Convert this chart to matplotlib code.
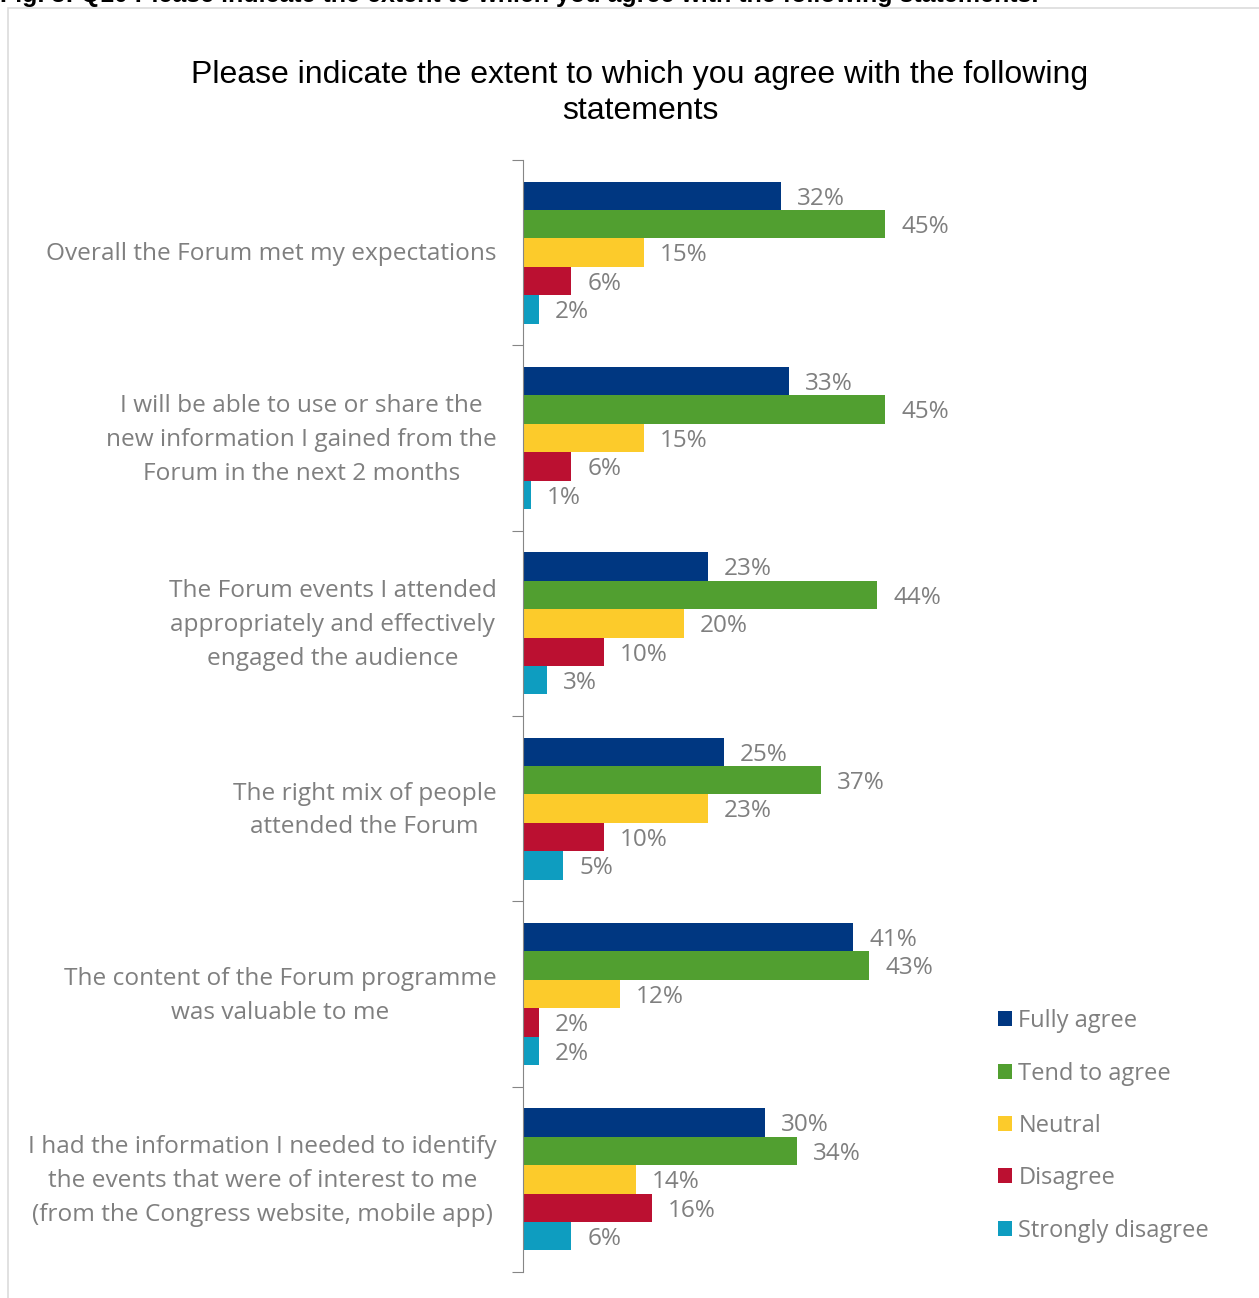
import numpy as np
import matplotlib.pyplot as plt
from matplotlib.patches import Rectangle

# survey statements, top to bottom
statements = [
    "Overall the Forum met my expectations",
    "I will be able to use or share the\nnew information I gained from the\nForum in the next 2 months",
    "The Forum events I attended\nappropriately and effectively\nengaged the audience",
    "The right mix of people\nattended the Forum",
    "The content of the Forum programme\nwas valuable to me",
    "I had the information I needed to identify\nthe events that were of interest to me\n(from the Congress website, mobile app)",
]
answers = ["Fully agree", "Tend to agree", "Neutral", "Disagree", "Strongly disagree"]
colors = ["#003781", "#519f30", "#fccb2b", "#bb1031", "#0e9dc0"]

fully_agree = [32, 33, 23, 25, 41, 30]
tend_to_agree = [45, 45, 44, 37, 43, 34]
neutral = [15, 15, 20, 23, 12, 14]
disagree = [6, 6, 10, 10, 2, 16]
strongly_disagree = [2, 1, 3, 5, 2, 6]
series = [fully_agree, tend_to_agree, neutral, disagree, strongly_disagree]

W, H = 1259, 1298
fig = plt.figure(figsize=(W / 100, H / 100), dpi=100)
grey = "#7f7f7f"
lab_font = "Open Sans"

# light frame round the chart
fig.patches.append(Rectangle((8 / W, -0.01), 1.2, 1 - 8 / H + 0.01, transform=fig.transFigure,
                             fill=False, edgecolor="#dcdcdc", linewidth=1.2))

# caption of the figure, running off the top edge
fig.text(0.0, 1 - 2 / H, "Fig. 3: Q10 Please indicate the extent to which you agree with the following statements.",
         fontsize=18, fontweight="bold", family="Liberation Sans", va="baseline", ha="left")

fig.text(640 / W, 1 - 60 / H, "Please indicate the extent to which you agree with the following\nstatements",
         fontsize=23, family="Liberation Sans", ha="center", va="top", linespacing=1.24)

ax = fig.add_axes([523 / W, 1 - 1272 / H, 500 / W, (1272 - 160) / H])
n = len(statements)
ypos = np.arange(n)
bh = 0.1535
for k, (vals, c, name) in enumerate(zip(series, colors, answers)):
    y = ypos + (k - 2) * bh
    ax.barh(y, vals, height=bh, color=c, label=name)
    for yy, v in zip(y, vals):
        ax.annotate(f"{v}%", xy=(v, yy), xytext=(11.5, -2), textcoords="offset points",
                    va="center", ha="left", fontsize=17.5, color=grey, family=lab_font)

# statement labels, right-aligned block, lines centred
for yy, s in zip(ypos, statements):
    ax.annotate(s, xy=(0, yy), xycoords=("axes fraction", "data"), xytext=(-19, -1.3),
                textcoords="offset points", ha="right", va="center", multialignment="center",
                fontsize=17.6, color=grey, family=lab_font, linespacing=1.55)

ax.set_xlim(0, 500 / 8.05)
ax.set_ylim(n - 0.5, -0.5)
ax.set_yticks(np.arange(n + 1) - 0.5)
ax.set_yticklabels([])
ax.tick_params(axis="y", length=8, color="#868686", direction="out")
ax.set_xticks([])
for s in ["top", "right", "bottom"]:
    ax.spines[s].set_visible(False)
ax.spines["left"].set_color("#868686")

leg = fig.legend(loc="upper left", bbox_to_anchor=(977 / W, 1 - 988 / H), frameon=False,
                 prop={"family": lab_font, "size": 17}, labelcolor=grey,
                 handlelength=0.6, handleheight=0.6, handletextpad=0.25, labelspacing=1.2)

fig.savefig("out.png", dpi=100)
